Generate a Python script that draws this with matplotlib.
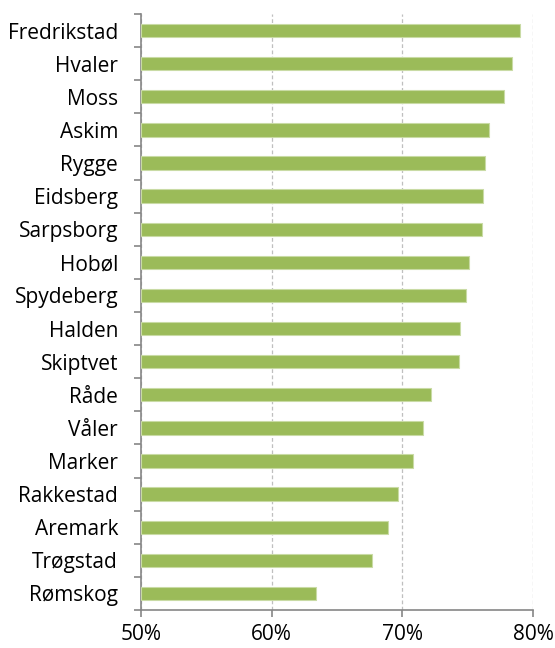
import matplotlib
matplotlib.use("Agg")
import matplotlib.pyplot as plt
import numpy as np
from matplotlib.ticker import FixedLocator, PercentFormatter

categories = ["Fredrikstad", "Hvaler", "Moss", "Askim", "Rygge", "Eidsberg",
              "Sarpsborg", "Hobøl", "Spydeberg", "Halden", "Skiptvet", "Råde",
              "Våler", "Marker", "Rakkestad", "Aremark", "Trøgstad", "Rømskog"]
values = [79.0, 78.4, 77.8, 76.65, 76.3, 76.2, 76.1, 75.1, 74.9, 74.4, 74.3,
          72.2, 71.6, 70.8, 69.7, 68.9, 67.7, 63.4]
xticks = [50, 60, 70, 80]

plt.rcParams['font.family'] = ['Open Sans', 'DejaVu Sans']

fig = plt.figure(figsize=(5.55, 6.48), dpi=100)
ax = fig.add_axes([141/555, 1-610/648, (533-141)/555, (610-14)/648])

n = len(categories)
y = np.arange(n)
ax.barh(y, [v - 50 for v in values], left=50, height=0.4, color='#9BBB59',
        edgecolor='#C9DBA5', linewidth=0.8, zorder=3)

ax.set_xlim(50, 80)
ax.set_ylim(n - 0.5, -0.5)
ax.set_xticks(xticks)
ax.xaxis.set_major_formatter(PercentFormatter(decimals=0))
ax.set_yticks(y)
ax.set_yticklabels(categories)
ax.yaxis.set_minor_locator(FixedLocator(np.arange(-0.5, n, 1.0)))

axis_color = '#868686'
for side in ['top', 'right']:
    ax.spines[side].set_visible(False)
for side in ['left', 'bottom']:
    ax.spines[side].set_color(axis_color)
    ax.spines[side].set_linewidth(1.2)

ax.tick_params(axis='y', which='major', length=0, pad=16.5, labelsize=15, labelcolor='#000000')
ax.tick_params(axis='y', which='minor', length=5, width=1.2, color=axis_color, direction='out')
ax.tick_params(axis='x', which='major', length=5, width=1.2, color=axis_color, direction='out',
               labelsize=15, pad=5)

ax.grid(axis='x', which='major', color='#BFBFBF', linestyle=(0, (3, 2)), linewidth=0.9, zorder=0)

fig.savefig("out.png", dpi=100)
